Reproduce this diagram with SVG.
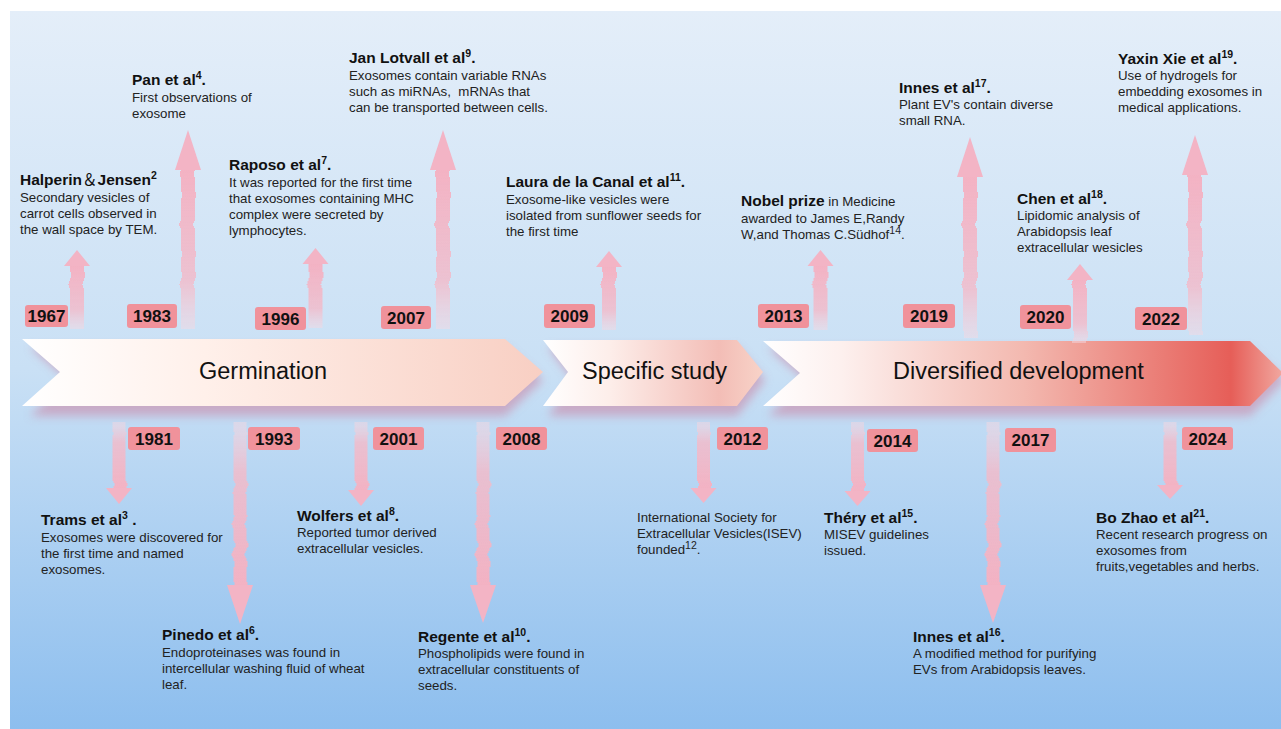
<svg xmlns="http://www.w3.org/2000/svg" width="1281" height="729" viewBox="0 0 1281 729">
  <defs>
    <style>
      .ttl { font-family: "Liberation Sans", Arial, sans-serif; font-weight: bold; font-size: 15.5px; fill: #111; }
      .bd { font-family: "Liberation Sans", Arial, sans-serif; font-weight: normal; font-size: 13.3px; fill: #222; }
      .sup { font-size: 10.5px; }
      .yr { font-family: "Liberation Sans", Arial, sans-serif; font-weight: bold; font-size: 17px; fill: #111; text-anchor: middle; }
      .badge { fill: #f0929b; }
      .stage { font-family: "Liberation Sans", Arial, sans-serif; font-size: 23.5px; fill: #111; }
      .head { fill: #f3b4c5; }
      .shaft-up { fill: url(#gUp); filter: url(#wave); }
      .shaft-dn { fill: url(#gDn); filter: url(#wave); }
      .shadow { fill: #c99ab8; opacity: 0.75; filter: url(#soft); }
    </style>
    <linearGradient id="bg" x1="0" y1="0" x2="0" y2="1">
      <stop offset="0" stop-color="#e4eef9"/>
      <stop offset="0.5" stop-color="#c9e0f5"/>
      <stop offset="1" stop-color="#8dbeee"/>
    </linearGradient>
    <linearGradient id="gUp" x1="0" y1="0" x2="0" y2="1">
      <stop offset="0" stop-color="#f3b2c3"/>
      <stop offset="0.7" stop-color="#f1bccb" stop-opacity="0.85"/>
      <stop offset="1" stop-color="#f3d8e2" stop-opacity="0.5"/>
    </linearGradient>
    <linearGradient id="gDn" x1="0" y1="1" x2="0" y2="0">
      <stop offset="0" stop-color="#f3b2c3"/>
      <stop offset="0.7" stop-color="#f1bccb" stop-opacity="0.85"/>
      <stop offset="1" stop-color="#f3d8e2" stop-opacity="0.5"/>
    </linearGradient>
    <linearGradient id="g1" x1="0" y1="0" x2="1" y2="0">
      <stop offset="0" stop-color="#ffffff"/>
      <stop offset="0.35" stop-color="#fff0ea"/>
      <stop offset="1" stop-color="#f8cfc3"/>
    </linearGradient>
    <linearGradient id="g2" x1="0" y1="0" x2="1" y2="0">
      <stop offset="0" stop-color="#ffffff"/>
      <stop offset="0.3" stop-color="#fdeeea"/>
      <stop offset="0.8" stop-color="#f3bdb6"/>
      <stop offset="1" stop-color="#f8d3c8"/>
    </linearGradient>
    <linearGradient id="g3" x1="0" y1="0" x2="1" y2="0">
      <stop offset="0" stop-color="#ffffff"/>
      <stop offset="0.15" stop-color="#fdf0ee"/>
      <stop offset="0.5" stop-color="#f3b9b0"/>
      <stop offset="0.9" stop-color="#e65e58"/>
      <stop offset="1" stop-color="#f1a8a0"/>
    </linearGradient>
    <!-- wobbles the arrow shafts sideways -->
    <filter id="wave" x="-80%" y="-5%" width="260%" height="110%">
      <feTurbulence type="fractalNoise" baseFrequency="0 0.1" numOctaves="1" seed="4" result="n"/>
      <feColorMatrix in="n" type="matrix" values="1 0 0 0 0  0 0 0 0 0.5  0 0 0 0 0  0 0 0 0 1" result="m"/>
      <feDisplacementMap in="SourceGraphic" in2="m" scale="8" xChannelSelector="R" yChannelSelector="G"/>
    </filter>
    <filter id="soft" x="-5%" y="-40%" width="110%" height="180%">
      <feGaussianBlur stdDeviation="5"/>
    </filter>
  </defs>

  <!-- page -->
  <rect x="0" y="0" width="1281" height="729" fill="#ffffff"/>
  <rect x="10" y="11" width="1271" height="718" fill="url(#bg)"/>

  <!-- stage bands -->
  <g id="stage-germination">
    <polygon class="shadow" points="30,347 505,347 543,380 505,416 30,416 68,380"/>
    <polygon points="22,339 505,339 543,372 505,406 22,406 60,372" fill="url(#g1)"/>
    <text class="stage" x="199" y="379">Germination</text>
  </g>
  <g id="stage-specific">
    <polygon class="shadow" points="548,347 737,347 765,380 737,416 548,416 573,380"/>
    <polygon points="543,340 737,340 763,372 737,406 543,406 568,372" fill="url(#g2)"/>
    <text class="stage" x="582" y="379">Specific study</text>
  </g>
  <g id="stage-diversified">
    <polygon class="shadow" points="768,348 1250,348 1285,380 1250,416 768,416 805,380"/>
    <polygon points="763,341 1250,341 1283,373 1250,406 763,406 800,373" fill="url(#g3)"/>
    <text class="stage" x="893" y="379">Diversified development</text>
  </g>

  <!-- connectors: arrows from the timeline to each event -->
  <g id="connectors">
    <!-- upward -->
    <rect class="shaft-up" x="70" y="265" width="14" height="64"/>
    <polygon class="head" points="77,250 90,266 64,266"/>
    <rect class="shaft-up" x="181" y="169" width="14" height="160"/>
    <polygon class="head" points="188,130 201,170 175,170"/>
    <rect class="shaft-up" x="308.5" y="263" width="14" height="65"/>
    <polygon class="head" points="315.5,248 328.5,264 302.5,264"/>
    <rect class="shaft-up" x="436" y="169" width="14" height="160"/>
    <polygon class="head" points="443,130 456,170 430,170"/>
    <rect class="shaft-up" x="602" y="266" width="14" height="64"/>
    <polygon class="head" points="609,251 622,267 596,267"/>
    <rect class="shaft-up" x="813.5" y="265" width="14" height="65"/>
    <polygon class="head" points="820.5,250 833.5,266 807.5,266"/>
    <rect class="shaft-up" x="963" y="176" width="14" height="162"/>
    <polygon class="head" points="970,137 983,177 957,177"/>
    <rect class="shaft-up" x="1073" y="279" width="14" height="64"/>
    <polygon class="head" points="1080,264 1093,280 1067,280"/>
    <rect class="shaft-up" x="1188" y="174" width="14" height="161"/>
    <polygon class="head" points="1195,135 1208,175 1182,175"/>
    <!-- downward -->
    <rect class="shaft-dn" x="112.5" y="422" width="13" height="67"/>
    <polygon class="head" points="106,488 132,488 119,504"/>
    <rect class="shaft-dn" x="233.5" y="422" width="13" height="164"/>
    <polygon class="head" points="227,585 253,585 240,624"/>
    <rect class="shaft-dn" x="354.5" y="422" width="13" height="69"/>
    <polygon class="head" points="348,490 374,490 361,506"/>
    <rect class="shaft-dn" x="476.5" y="422" width="13" height="164"/>
    <polygon class="head" points="470,585 496,585 483,623"/>
    <rect class="shaft-dn" x="697" y="422" width="13" height="67"/>
    <polygon class="head" points="690.5,488 716.5,488 703.5,503"/>
    <rect class="shaft-dn" x="851" y="422" width="13" height="70"/>
    <polygon class="head" points="844.5,491 870.5,491 857.5,506"/>
    <rect class="shaft-dn" x="986.5" y="422" width="13" height="164"/>
    <polygon class="head" points="980,585 1006,585 993,623"/>
    <rect class="shaft-dn" x="1163.5" y="422" width="13" height="64"/>
    <polygon class="head" points="1157,485 1183,485 1170,499"/>
  </g>

  <!-- events above the timeline -->
  <g id="ev-1967">
    <rect class="badge" x="25" y="305" width="43" height="22" rx="3"/>
    <text class="yr" x="46.5" y="322">1967</text>
    <text class="ttl" x="20" y="185">Halperin<tspan font-weight="normal" font-family="'Noto Sans CJK SC', sans-serif">＆</tspan>Jensen<tspan class="sup" dy="-6">2</tspan></text>
    <text class="bd" x="20" y="202">Secondary vesicles of</text>
    <text class="bd" x="20" y="218">carrot cells observed in</text>
    <text class="bd" x="20" y="234">the wall space by TEM.</text>
  </g>
  <g id="ev-1983">
    <rect class="badge" x="127" y="304" width="50" height="24" rx="3"/>
    <text class="yr" x="152" y="322">1983</text>
    <text class="ttl" x="132" y="85">Pan et al<tspan class="sup" dy="-6">4</tspan><tspan dy="6">.</tspan></text>
    <text class="bd" x="132" y="102">First observations of</text>
    <text class="bd" x="132" y="118">exosome</text>
  </g>
  <g id="ev-1996">
    <rect class="badge" x="255" y="307" width="51" height="23" rx="3"/>
    <text class="yr" x="280.5" y="325">1996</text>
    <text class="ttl" x="229" y="170">Raposo et al<tspan class="sup" dy="-6">7</tspan><tspan dy="6">.</tspan></text>
    <text class="bd" x="229" y="187">It was reported for the first time</text>
    <text class="bd" x="229" y="203">that exosomes containing MHC</text>
    <text class="bd" x="229" y="219">complex were secreted by</text>
    <text class="bd" x="229" y="235">lymphocytes.</text>
  </g>
  <g id="ev-2007">
    <rect class="badge" x="381" y="306" width="50" height="23" rx="3"/>
    <text class="yr" x="406" y="324">2007</text>
    <text class="ttl" x="349" y="63">Jan Lotvall et al<tspan class="sup" dy="-6">9</tspan><tspan dy="6">.</tspan></text>
    <text class="bd" x="349" y="80">Exosomes contain variable RNAs</text>
    <text class="bd" x="349" y="96">such as miRNAs,&#160; mRNAs that</text>
    <text class="bd" x="349" y="112">can be transported between cells.</text>
  </g>
  <g id="ev-2009">
    <rect class="badge" x="544" y="304" width="51" height="24" rx="3"/>
    <text class="yr" x="569.5" y="322">2009</text>
    <text class="ttl" x="506" y="187">Laura de la Canal et al<tspan class="sup" dy="-6">11</tspan><tspan dy="6">.</tspan></text>
    <text class="bd" x="506" y="204">Exosome-like vesicles were</text>
    <text class="bd" x="506" y="220">isolated from sunflower seeds for</text>
    <text class="bd" x="506" y="236">the first time</text>
  </g>
  <g id="ev-2013">
    <rect class="badge" x="758" y="304" width="51" height="24" rx="3"/>
    <text class="yr" x="783.5" y="322">2013</text>
    <text class="ttl" x="741" y="206">Nobel prize<tspan class="bd"> in Medicine</tspan></text>
    <text class="bd" x="741" y="223">awarded to James E,Randy</text>
    <text class="bd" x="741" y="239">W,and Thomas C.Südhof<tspan class="sup" dy="-5">14</tspan><tspan dy="5">.</tspan></text>
  </g>
  <g id="ev-2019">
    <rect class="badge" x="903" y="304" width="52" height="24" rx="3"/>
    <text class="yr" x="929" y="322">2019</text>
    <text class="ttl" x="899" y="93">Innes et al<tspan class="sup" dy="-6">17</tspan><tspan dy="6">.</tspan></text>
    <text class="bd" x="899" y="109">Plant EV's contain diverse</text>
    <text class="bd" x="899" y="125">small RNA.</text>
  </g>
  <g id="ev-2020">
    <rect class="badge" x="1020" y="305" width="51" height="24" rx="3"/>
    <text class="yr" x="1045.5" y="323">2020</text>
    <text class="ttl" x="1017" y="204">Chen et al<tspan class="sup" dy="-6">18</tspan><tspan dy="6">.</tspan></text>
    <text class="bd" x="1017" y="220">Lipidomic analysis of</text>
    <text class="bd" x="1017" y="236">Arabidopsis leaf</text>
    <text class="bd" x="1017" y="252">extracellular wesicles</text>
  </g>
  <g id="ev-2022">
    <rect class="badge" x="1135" y="307" width="52" height="23" rx="3"/>
    <text class="yr" x="1161" y="325">2022</text>
    <text class="ttl" x="1118" y="64">Yaxin Xie et al<tspan class="sup" dy="-6">19</tspan><tspan dy="6">.</tspan></text>
    <text class="bd" x="1118" y="80">Use of hydrogels for</text>
    <text class="bd" x="1118" y="96">embedding exosomes in</text>
    <text class="bd" x="1118" y="112">medical applications.</text>
  </g>

  <!-- events below the timeline -->
  <g id="ev-1981">
    <rect class="badge" x="128" y="427" width="52" height="23" rx="3"/>
    <text class="yr" x="154" y="445">1981</text>
    <text class="ttl" x="41" y="525">Trams et al<tspan class="sup" dy="-6">3</tspan><tspan dy="6"> .</tspan></text>
    <text class="bd" x="41" y="542">Exosomes were discovered for</text>
    <text class="bd" x="41" y="558">the first time and named</text>
    <text class="bd" x="41" y="574">exosomes.</text>
  </g>
  <g id="ev-1993">
    <rect class="badge" x="248" y="427" width="52" height="23" rx="3"/>
    <text class="yr" x="274" y="445">1993</text>
    <text class="ttl" x="162" y="640">Pinedo et al<tspan class="sup" dy="-6">6</tspan><tspan dy="6">.</tspan></text>
    <text class="bd" x="162" y="657">Endoproteinases was found in</text>
    <text class="bd" x="162" y="673">intercellular washing fluid of wheat</text>
    <text class="bd" x="162" y="689">leaf.</text>
  </g>
  <g id="ev-2001">
    <rect class="badge" x="373" y="427" width="51" height="23" rx="3"/>
    <text class="yr" x="398.5" y="445">2001</text>
    <text class="ttl" x="297" y="521">Wolfers et al<tspan class="sup" dy="-6">8</tspan><tspan dy="6">.</tspan></text>
    <text class="bd" x="297" y="537">Reported tumor derived</text>
    <text class="bd" x="297" y="553">extracellular vesicles.</text>
  </g>
  <g id="ev-2008">
    <rect class="badge" x="496" y="427" width="51" height="23" rx="3"/>
    <text class="yr" x="521.5" y="445">2008</text>
    <text class="ttl" x="418" y="642">Regente et al<tspan class="sup" dy="-6">10</tspan><tspan dy="6">.</tspan></text>
    <text class="bd" x="418" y="658">Phospholipids were found in</text>
    <text class="bd" x="418" y="674">extracellular constituents of</text>
    <text class="bd" x="418" y="690">seeds.</text>
  </g>
  <g id="ev-2012">
    <rect class="badge" x="717" y="427" width="51" height="23" rx="3"/>
    <text class="yr" x="742.5" y="445">2012</text>
    <text class="bd" x="637" y="522">International Society for</text>
    <text class="bd" x="637" y="538">Extracellular Vesicles(ISEV)</text>
    <text class="bd" x="637" y="554">founded<tspan class="sup" dy="-5">12</tspan><tspan dy="5">.</tspan></text>
  </g>
  <g id="ev-2014">
    <rect class="badge" x="867" y="429" width="51" height="23" rx="3"/>
    <text class="yr" x="892.5" y="447">2014</text>
    <text class="ttl" x="824" y="523">Théry et al<tspan class="sup" dy="-6">15</tspan><tspan dy="6">.</tspan></text>
    <text class="bd" x="824" y="539">MISEV guidelines</text>
    <text class="bd" x="824" y="555">issued.</text>
  </g>
  <g id="ev-2017">
    <rect class="badge" x="1005" y="428" width="51" height="24" rx="3"/>
    <text class="yr" x="1030.5" y="446">2017</text>
    <text class="ttl" x="913" y="642">Innes et al<tspan class="sup" dy="-6">16</tspan><tspan dy="6">.</tspan></text>
    <text class="bd" x="913" y="658">A modified method for purifying</text>
    <text class="bd" x="913" y="674">EVs from Arabidopsis leaves.</text>
  </g>
  <g id="ev-2024">
    <rect class="badge" x="1182" y="427" width="51" height="23" rx="3"/>
    <text class="yr" x="1207.5" y="445">2024</text>
    <text class="ttl" x="1096" y="523">Bo Zhao et al<tspan class="sup" dy="-6">21</tspan><tspan dy="6">.</tspan></text>
    <text class="bd" x="1096" y="539">Recent research progress on</text>
    <text class="bd" x="1096" y="555">exosomes from</text>
    <text class="bd" x="1096" y="571">fruits,vegetables and herbs.</text>
  </g>
</svg>
